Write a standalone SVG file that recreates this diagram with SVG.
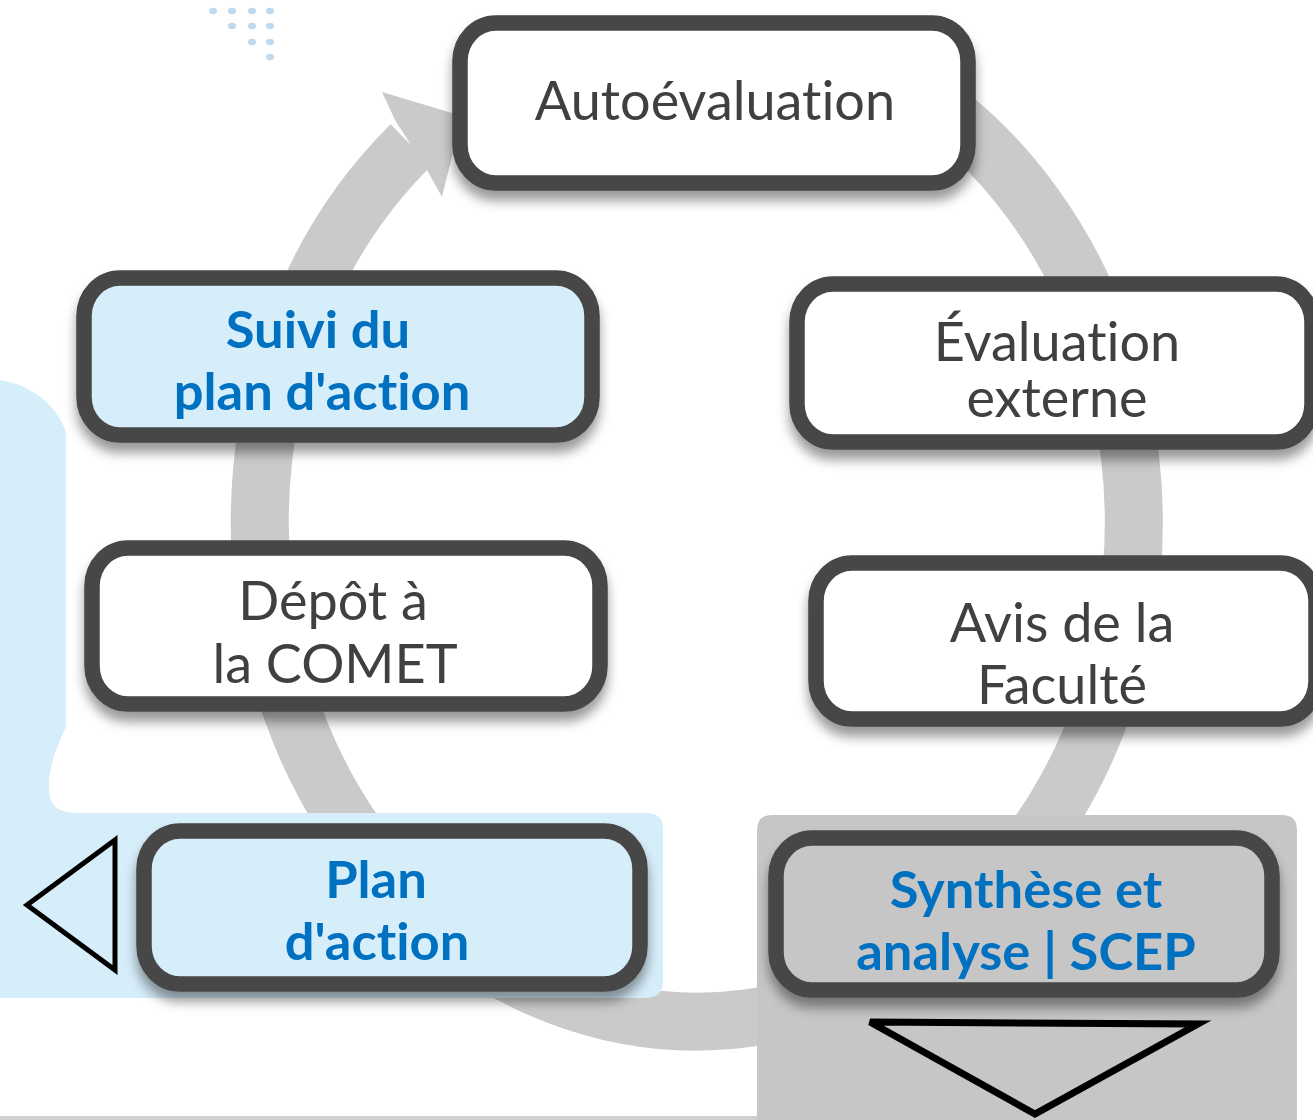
<svg xmlns="http://www.w3.org/2000/svg" width="1313" height="1120" viewBox="0 0 1313 1120">
<defs>
<style>
.box{stroke:#464646;stroke-width:15.5;}
.w{fill:#ffffff;}
.b{fill:#d6edfa;}
.g{fill:#c6c6c6;}
.t{font-family:Lato,"Noto Sans",sans-serif;font-size:54px;fill:#404040;text-anchor:middle;font-variant-ligatures:none;}
.tb{font-family:Lato,"Noto Sans",sans-serif;font-size:52.5px;font-weight:bold;fill:#0070c0;text-anchor:middle;font-variant-ligatures:none;}
.dot{fill:#bfd9ee;}
.tri{stroke:#000;fill:none;}
</style>
<filter id="sh" x="-10%" y="-20%" width="120%" height="150%">
<feDropShadow dx="0" dy="10" stdDeviation="6" flood-color="#000" flood-opacity="0.4"/>
</filter>
</defs>
<rect width="1313" height="1120" fill="#ffffff"/>
<g id="dots">
<ellipse class="dot" cx="213" cy="11" rx="4" ry="3.3"/>
<ellipse class="dot" cx="232" cy="11" rx="4" ry="3.3"/>
<ellipse class="dot" cx="252" cy="11" rx="4" ry="3.3"/>
<ellipse class="dot" cx="270" cy="11" rx="4" ry="3.3"/>
<ellipse class="dot" cx="232" cy="26" rx="4" ry="3.3"/>
<ellipse class="dot" cx="252" cy="26" rx="4" ry="3.3"/>
<ellipse class="dot" cx="270" cy="26" rx="4" ry="3.3"/>
<ellipse class="dot" cx="252" cy="42" rx="4" ry="3.3"/>
<ellipse class="dot" cx="270" cy="42" rx="4" ry="3.3"/>
<ellipse class="dot" cx="270" cy="57" rx="4" ry="3.3"/>
</g>
<g id="connectors">
<path d="M 897.6 79.4 A 437 499 0 1 1 411 145" fill="none" stroke="#cacaca" stroke-width="58"/>
<polygon points="382,92 462,116 442,197 427,170 395,120" fill="#cacaca"/>
</g>
<g id="backgrounds">
<path d="M0,380 C35,385 60,410 66,433 L66,727 C55,750 48,770 49,790 C50,808 60,813 80,813 L645,813 Q663,813 663,828 L663,982 Q663,998 645,998 L0,998 Z" fill="#d6edfa"/>
<path d="M757,1120 L757,830 Q757,815 772,815 L1282,815 Q1297,815 1297,830 L1297,1120 Z" fill="#c6c6c6"/>
<rect x="0" y="1116" width="757" height="4" fill="#cfcfcf"/>
<polygon class="tri" points="27,905 115,840 115,970" stroke-width="5" fill="#d6edfa"/>
<polygon class="tri" points="870,1022 1198,1024 1035,1114" stroke-width="7" fill="#c6c6c6"/>
</g>
<g id="n-autoevaluation" filter="url(#sh)">
<rect class="box w" x="460" y="23" width="508" height="160" rx="36" ry="38"/>
<text class="t" x="715" y="120">Autoévaluation</text>
</g>
<g id="n-evaluation-externe" filter="url(#sh)">
<rect class="box w" x="797" y="284" width="515" height="158" rx="36" ry="38"/>
<text class="t" x="1057" y="361">Évaluation</text>
<text class="t" x="1057" y="417">externe</text>
</g>
<g id="n-avis" filter="url(#sh)">
<rect class="box w" x="816" y="563" width="500" height="156" rx="36" ry="38"/>
<text class="t" x="1062" y="642">Avis de la</text>
<text class="t" x="1062" y="704">Faculté</text>
</g>
<g id="n-synthese" filter="url(#sh)">
<rect class="box g" x="776" y="838" width="496" height="152" rx="36" ry="38"/>
<text class="tb" x="1026" y="908">Synthèse et</text>
<text class="tb" x="1026" y="970">analyse | SCEP</text>
</g>
<g id="n-plan" filter="url(#sh)">
<rect class="box b" x="144" y="831" width="496" height="153" rx="36" ry="38"/>
<text class="tb" x="376" y="898">Plan</text>
<text class="tb" x="377" y="960">d'action</text>
</g>
<g id="n-depot" filter="url(#sh)">
<rect class="box w" x="92" y="548" width="508" height="156" rx="36" ry="38"/>
<text class="t" x="333" y="620">Dépôt à</text>
<text class="t" x="335" y="683">la COMET</text>
</g>
<g id="n-suivi" filter="url(#sh)">
<rect class="box b" x="84" y="278" width="508" height="157" rx="36" ry="38"/>
<text class="tb" x="318" y="348">Suivi du</text>
<text class="tb" x="322" y="410">plan d'action</text>
</g>
</svg>
